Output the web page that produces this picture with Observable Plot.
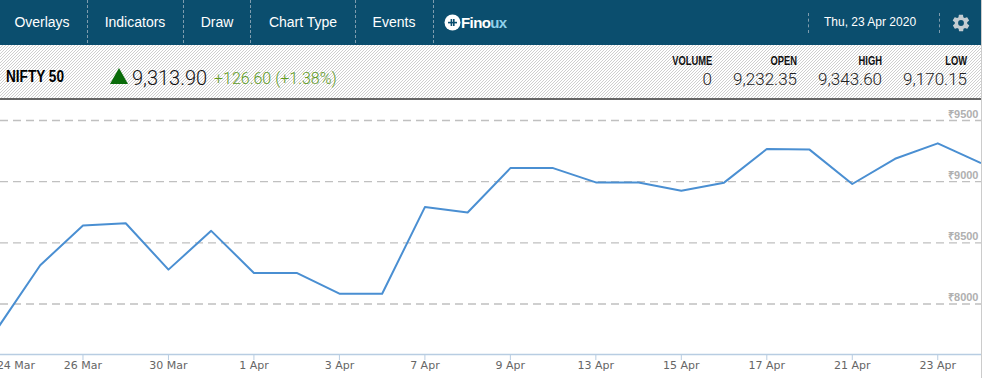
<!DOCTYPE html>
<html><head><meta charset="utf-8">
<script src="https://cdn.jsdelivr.net/npm/d3@7"></script>
<script src="https://cdn.jsdelivr.net/npm/@observablehq/plot@0.6"></script>
<style>
html,body{margin:0;padding:0;background:#fff;overflow:hidden}
#wrap{position:relative;width:983px;height:378px;font-family:"Liberation Sans",Arial,sans-serif}
#top{position:absolute;left:0;top:0;width:981px;height:45px;background:#0b4e6e;color:#fff}
.menu{position:absolute;top:14px;font-size:14px;line-height:16px;transform:translateX(-50%);white-space:nowrap}
.sep{position:absolute;top:0;height:43px;border-left:1px dashed #7f9cae}
#strip{position:absolute;left:0;top:45px;width:981px;height:53px;background-color:#fff;background-image:url("data:image/svg+xml,%3Csvg xmlns='http://www.w3.org/2000/svg' width='3' height='3' shape-rendering='crispEdges'%3E%3Crect x='2' y='0' width='1' height='1' fill='%23cfcfcf'/%3E%3Crect x='1' y='1' width='1' height='1' fill='%23cfcfcf'/%3E%3Crect x='0' y='2' width='1' height='1' fill='%23cfcfcf'/%3E%3C/svg%3E")}
#rule{position:absolute;left:0;top:98px;width:981px;height:2px;background:#666}
.abs{position:absolute;white-space:nowrap}
.hd{font-weight:700;font-size:12px;color:#111;line-height:14px;transform:scaleX(.78);transform-origin:right center}
.vl{font-family:Roboto,"Liberation Sans",sans-serif;font-weight:300;font-size:17px;color:#222;line-height:18px}
#rb{position:absolute;left:981px;top:0;width:1px;height:378px;background:#ccc}
#chart{position:absolute;left:0;top:100px}
#chart svg{display:block}
</style></head><body>
<div id="wrap">
<div id="top"></div>
<div id="strip"></div>
<div id="rule"></div>
<div id="chart"></div>
<div id="rb"></div>
</div>
<script>
const menuItems=["Overlays","Indicators","Draw","Chart Type","Events"];
const menuCentres=[42,135,217,303,394];
const menuSeps=[87,183,250,355,433,808,939];
const dates=["24 Mar","25 Mar","26 Mar","27 Mar","30 Mar","31 Mar","1 Apr","2 Apr","3 Apr","6 Apr","7 Apr","8 Apr","9 Apr","10 Apr","13 Apr","14 Apr","15 Apr","16 Apr","17 Apr","20 Apr","21 Apr","22 Apr","23 Apr","24 Apr"];
const closes=[7801,8317,8641,8660,8281,8598,8254,8254,8084,8084,8792,8748,9111,9111,8994,8994,8925,8992,9267,9262,8981,9187,9313,9154];
const tickDates=["24 Mar","26 Mar","30 Mar","1 Apr","3 Apr","7 Apr","9 Apr","13 Apr","15 Apr","17 Apr","21 Apr","23 Apr"];
const priceTicks=[8000,8500,9000,9500];
const axisBase=7587, tickEnd=7538;
const quoteName="NIFTY 50", quotePrice="9,313.90", quoteChange="+126.60", quotePct="(+1.38%)", quoteDate="Thu, 23 Apr 2020";
const statNames=["VOLUME","OPEN","HIGH","LOW"], statValues=["0","9,232.35","9,343.60","9,170.15"], statRight=[712,797,882,967];

const wrap=document.getElementById("wrap");
function add(cls,css,html){const d=document.createElement("div");d.className=cls;d.style.cssText=css;d.innerHTML=html;wrap.appendChild(d);return d}
menuItems.forEach((m,i)=>add("menu",`left:${menuCentres[i]}px;color:#fff`,m));
menuSeps.forEach((x,i)=>add("sep",i>4?`left:${x}px;top:13px;height:20px`:`left:${x}px`,""));
add("abs","left:444px;top:14px;line-height:0",`<svg width="17" height="17" viewBox="0 0 17 17"><circle cx="8.5" cy="8.5" r="8" fill="#fff"/><rect x="4" y="7.8" width="9" height="1.6" fill="#0b4e6e"/><rect x="6.6" y="5" width="1.6" height="7" fill="#0b4e6e"/><rect x="9" y="5" width="1.6" height="7" fill="#0b4e6e"/></svg>`);
add("abs","left:461px;top:14px;font-weight:700;font-size:15px;line-height:17px;letter-spacing:-.6px;color:#fff",`Fino<span style="color:#8fd0ea">ux</span>`);
add("abs","left:824px;top:15px;font-size:12px;line-height:15px;color:#fff",quoteDate);
add("abs","left:951px;top:13px;line-height:0",`<svg width="20" height="20" viewBox="0 0 24 24"><path fill="#c3ccd1" d="M19.4 13c.04-.3.1-.7.1-1s-.04-.7-.1-1l2.1-1.6c.2-.2.2-.4.1-.6l-2-3.5c-.1-.2-.4-.3-.6-.2l-2.5 1c-.5-.4-1.1-.7-1.7-1l-.4-2.7c0-.2-.2-.4-.5-.4h-4c-.2 0-.4.2-.5.4l-.4 2.7c-.6.3-1.2.6-1.7 1l-2.5-1c-.2-.1-.5 0-.6.2l-2 3.5c-.1.2-.1.5.1.6L4.6 11c0 .3-.1.7-.1 1s0 .7.1 1l-2.1 1.6c-.2.2-.2.4-.1.6l2 3.5c.1.2.4.3.6.2l2.5-1c.5.4 1.1.7 1.7 1l.4 2.7c0 .2.3.4.5.4h4c.3 0 .5-.2.5-.4l.4-2.7c.6-.3 1.2-.6 1.7-1l2.5 1c.2.1.5 0 .6-.2l2-3.5c.1-.2.1-.5-.1-.6L19.4 13zM12 15.5a3.5 3.5 0 1 1 0-7 3.5 3.5 0 0 1 0 7z"/></svg>`);
add("abs hd","left:6px;top:68px;font-size:16px;line-height:18px;color:#000;transform:scaleX(.85);transform-origin:left center",quoteName);
add("abs","left:110px;top:68px;line-height:0",`<svg width="18" height="16"><polygon points="9,0 18,16 0,16" fill="#0a6b0a"/></svg>`);
add("abs vl","left:132px;top:66px;font-size:20px;line-height:24px;color:#111",quotePrice);
add("abs vl","left:214px;top:69px;font-size:16px;line-height:19px;color:#5e9b1e",quoteChange+" "+quotePct);
statNames.forEach((n,i)=>{
 add("abs hd",`right:${983-statRight[i]}px;top:54px`,n);
 add("abs vl",`right:${983-statRight[i]}px;top:70px`,statValues[i]);
});

const data=dates.map((d,i)=>({date:d,close:closes[i]}));
const rupee=d=>"\u20B9"+d;
const plot=Plot.plot({
 width:981,height:278,margin:0,
 style:{background:"transparent",fontFamily:"'DejaVu Sans',sans-serif"},
 x:{type:"point",domain:dates,range:[-3,980],padding:0,round:false,axis:null},
 y:{type:"linear",domain:[8000,9500],range:[203.5,20],axis:null},
 marks:[
  Plot.ruleY(priceTicks,{stroke:"#c0c0c0",strokeWidth:1.3,strokeDasharray:"8,5"}),
  Plot.text(priceTicks,{frameAnchor:"right",y:d=>d,dx:-3,dy:-6.5,text:rupee,fill:"#b0b0b0",fontSize:11,fontWeight:700,fontFamily:"'Liberation Sans',sans-serif",textAnchor:"end"}),
  Plot.line(data,{x:"date",y:"close",stroke:"#4a8fd2",strokeWidth:2,curve:"linear"}),
  Plot.ruleY([axisBase],{stroke:"#b8cde2",strokeWidth:1.3}),
  Plot.ruleX(tickDates,{x:d=>d,y1:axisBase,y2:tickEnd,stroke:"#b8cde2",strokeWidth:1}),
  Plot.text(tickDates.filter(d=>d!==tickDates[0]),{x:d=>d,frameAnchor:"bottom",dy:-10,text:d=>d,fill:"#666",fontSize:11}),
  Plot.text([tickDates[0]],{x:d=>d,frameAnchor:"bottom",dx:18.5,dy:-10,text:d=>d,fill:"#666",fontSize:11})
 ]
});
document.getElementById("chart").appendChild(plot);
</script>
</body></html>
